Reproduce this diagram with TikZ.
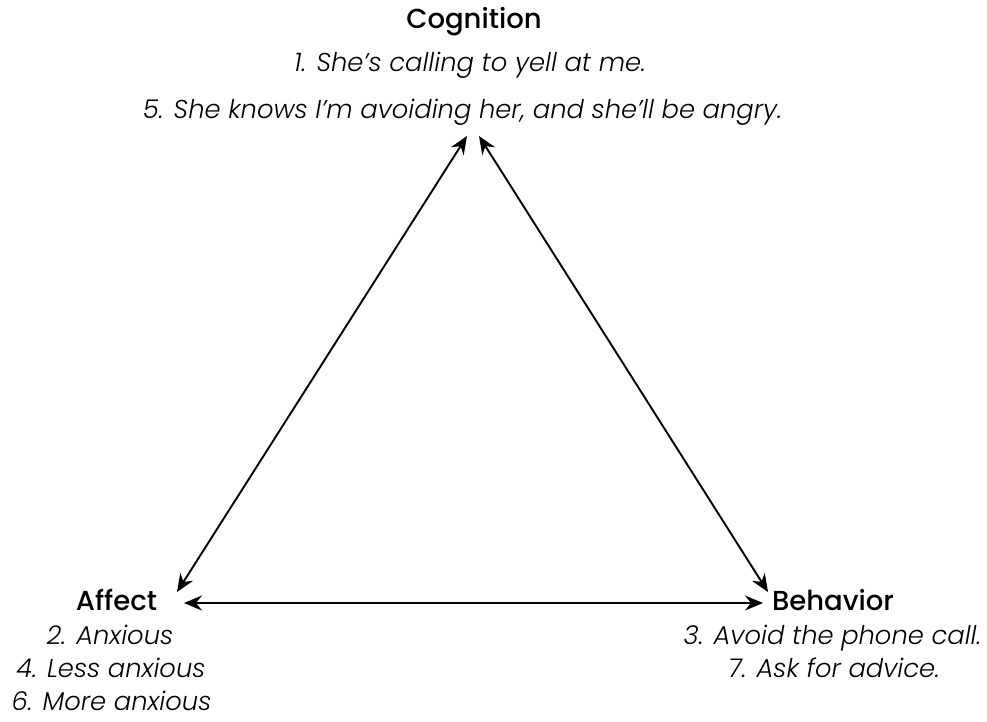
\documentclass[tikz,border=0pt]{standalone}
\usepackage{fontspec}
\setmainfont{Poppins}
\newfontfamily\itemfont{Poppins Light Italic}
\newfontfamily\headfont{Poppins Medium}
\usetikzlibrary{arrows.meta}
\begin{document}
\begin{tikzpicture}[x=1pt,y=-1pt,
  head/.style={font=\fontsize{27.5}{32}\selectfont\headfont, inner sep=0pt, anchor=base},
  item/.style={font=\fontsize{25.8}{30}\selectfont\itemfont, inner sep=0pt, anchor=base},
  link/.style={line width=1.9pt, {Stealth[length=18pt,width=15pt,inset=6pt]}-{Stealth[length=18pt,width=15pt,inset=6pt]}}]
\useasboundingbox (0,0) rectangle (987,721);
\node[head] (cog) at (474,28) {Cognition};
\node[item] (c1) at (470,71) {1. She’s calling to yell at me.};
\node[item] (c5) at (462.5,118) {5. She knows I’m avoiding her, and she’ll be angry.};
\node[head] (aff) at (116.5,610) {Affect};
\node[item] (a2) at (110,644) {2. Anxious};
\node[item] (a4) at (111,677) {4. Less anxious};
\node[item] (a6) at (111.5,710) {6. More anxious};
\node[head] (beh) at (833,610) {Behavior};
\node[item] (b3) at (832.5,644) {3. Avoid the phone call.};
\node[item] (b7) at (834,677) {7. Ask for advice.};
\coordinate (tl) at (467,136);
\coordinate (tr) at (479,136);
\coordinate (lb) at (177,592);
\coordinate (rb) at (768,592);
\coordinate (bl) at (184,603);
\coordinate (br) at (763,603);
\draw[link] (lb) -- (tl);
\draw[link] (rb) -- (tr);
\draw[link] (bl) -- (br);
\end{tikzpicture}
\end{document}
